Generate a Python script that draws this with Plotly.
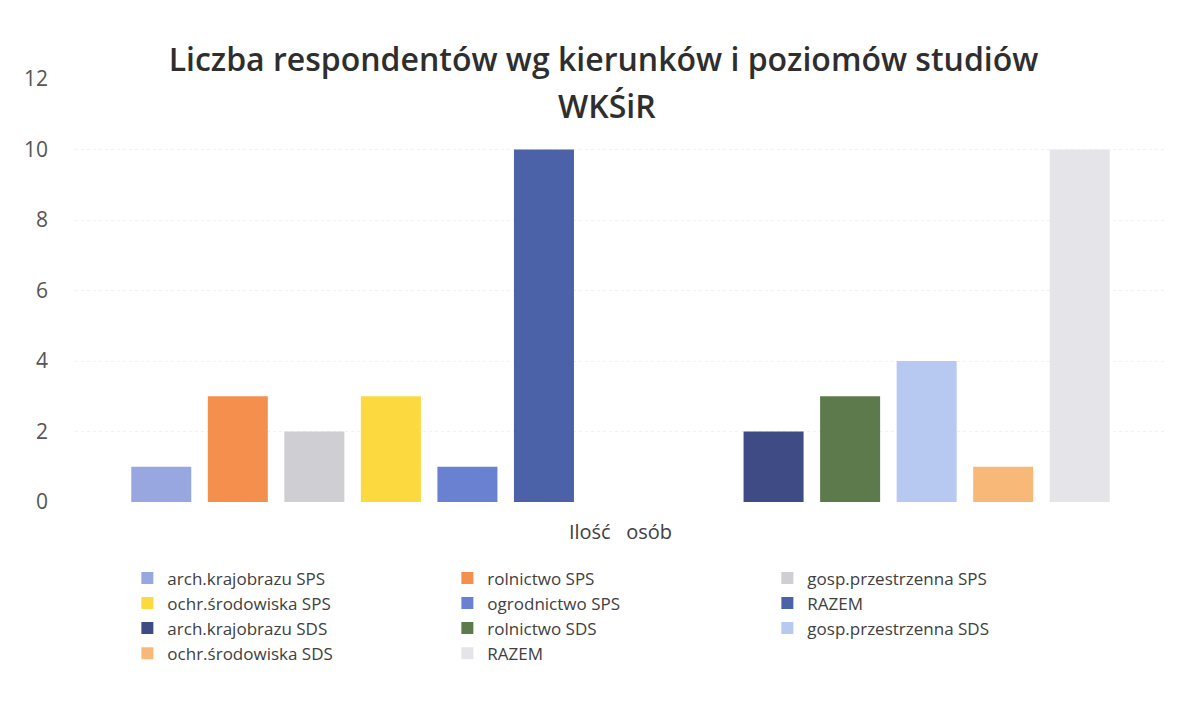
import plotly.graph_objects as go

# kategoria (jedna grupa słupków)
kategoria = ["Ilość\u00a0\u00a0\u00a0osób"]

# serie (dwie puste serie rozdzielają SPS i SDS)
serie = [
    "arch.krajobrazu SPS", "rolnictwo SPS", "gosp.przestrzenna SPS",
    "ochr.środowiska SPS", "ogrodnictwo SPS", "RAZEM",
    "", "",
    "arch.krajobrazu SDS", "rolnictwo SDS", "gosp.przestrzenna SDS",
    "ochr.środowiska SDS", "RAZEM",
]
wartosci = [1, 3, 2, 3, 1, 10, None, None, 2, 3, 4, 1, 10]
kolory = [
    "#98a7e0", "#f58f4e", "#cfcfd3", "#fbd93f", "#6a80d0", "#4b61a8",
    "#ffffff", "#ffffff",
    "#3f4b85", "#5c7a4b", "#b7c8f1", "#f8b878", "#e5e5e9",
]

fig = go.Figure()
for nazwa, wartosc, kolor in zip(serie, wartosci, kolory):
    fig.add_trace(go.Bar(
        x=kategoria, y=[wartosc], name=nazwa,
        marker=dict(color=kolor, line=dict(width=0)),
        showlegend=bool(nazwa),
    ))

fig.update_layout(
    width=1192, height=707,
    paper_bgcolor="white", plot_bgcolor="white",
    font=dict(family="Open Sans", color="#404040"),
    barmode="group", bargap=0.088, bargroupgap=0.216,
    margin=dict(l=67, r=34, t=71, b=213, autoexpand=False),
    title=dict(
        text="Liczba respondentów wg kierunków i poziomów studiów",
        x=0.4996, xanchor="center", y=0.9264, yanchor="middle",
        yref="container",
        font=dict(size=32, color="#2e2e2e", weight=600),
    ),
    legend=dict(
        orientation="h", x=0.048, xanchor="left", y=-0.138, yanchor="top",
        entrywidth=275, font=dict(size=17, color="#404040"),
        traceorder="normal",
    ),
    showlegend=True,
)
# druga linia tytułu
fig.add_annotation(
    text="WKŚiR", xref="paper", yref="paper", x=0.4876, y=0.9385,
    xanchor="center", yanchor="middle", showarrow=False,
    font=dict(size=32, color="#2e2e2e", weight=600),
)
fig.update_yaxes(
    range=[0, 12], dtick=2, showgrid=True, gridcolor="#f2f2f2",
    griddash="dot", zeroline=False, showline=False, automargin=False,
    tickfont=dict(size=21, color="#555555"), ticklabelstandoff=26,
)
fig.update_xaxes(
    showgrid=False, showline=False, zeroline=False, automargin=False,
    tickfont=dict(size=20, color="#404040"), ticklabelstandoff=16,
)

fig.write_html("out.html")
